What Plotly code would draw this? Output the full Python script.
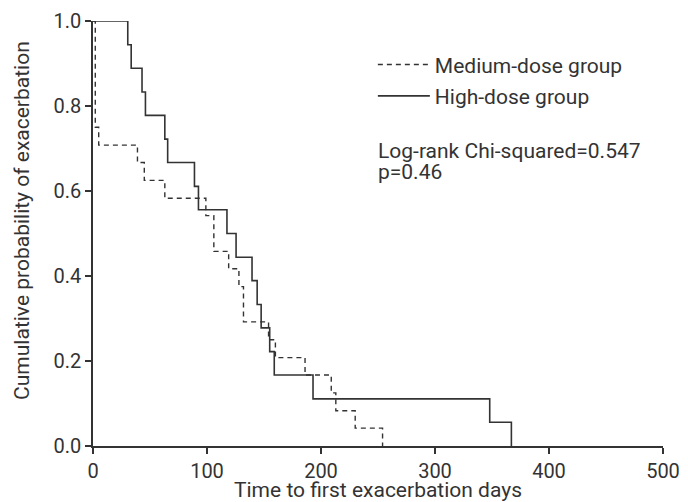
import plotly.graph_objects as go

# Kaplan-Meier step data
medium_times = [0, 2, 5, 39, 45, 63, 99, 106, 119, 128, 132, 154, 160, 186, 209, 213, 230, 254]
medium_surv = [1.0, 0.750, 0.708, 0.667, 0.625, 0.583, 0.542, 0.458, 0.417, 0.375, 0.292,
               0.250, 0.208, 0.167, 0.125, 0.083, 0.042, 0.0]

high_times = [0, 30.5, 33.5, 43, 46, 63, 65.5, 89, 92.5, 117.5, 125.5, 139.5, 144, 147.5,
              155, 159, 193, 348, 367]
high_surv = [1.0, 0.944, 0.889, 0.833, 0.778, 0.722, 0.667, 0.611, 0.556, 0.500, 0.444,
             0.389, 0.333, 0.278, 0.222, 0.167, 0.111, 0.056, 0.0]

x_ticks = [0, 100, 200, 300, 400, 500]
y_ticks = [0.0, 0.2, 0.4, 0.6, 0.8, 1.0]

FONT = "Roboto"
INK = "#333333"
FS_TEXT = 21
FS_TICK = 20

fig = go.Figure()
fig.add_trace(go.Scatter(
    x=medium_times, y=medium_surv, mode="lines", line_shape="hv",
    name="Medium-dose group", legendgroup="a",
    line=dict(color=INK, width=1.4, dash="5px,4px"), cliponaxis=False))
fig.add_trace(go.Scatter(
    x=high_times, y=high_surv, mode="lines", line_shape="hv",
    name="High-dose group", legendgroup="b",
    line=dict(color=INK, width=1.6), cliponaxis=False))

fig.add_annotation(
    x=0.4965, y=0.694, xref="paper", yref="paper", xanchor="left", yanchor="middle",
    text="Log-rank Chi-squared=0.547", showarrow=False, align="left",
    font=dict(family=FONT, size=FS_TEXT, color=INK))
fig.add_annotation(
    x=0.4965, y=0.644, xref="paper", yref="paper", xanchor="left", yanchor="middle",
    text="p=0.46", showarrow=False, align="left",
    font=dict(family=FONT, size=FS_TEXT, color=INK))
# y-axis title
fig.add_annotation(
    x=-0.1246, y=0.532, xref="paper", yref="paper", xanchor="center", yanchor="middle",
    text="Cumulative probability of exacerbation", showarrow=False, textangle=-90,
    font=dict(family=FONT, size=FS_TEXT, color=INK))

axis_common = dict(
    showline=True, linecolor=INK, linewidth=1.5, ticks="outside", ticklen=6,
    tickcolor=INK, tickwidth=1.5, showgrid=False, zeroline=False, automargin=False,
    tickfont=dict(family=FONT, size=FS_TICK, color=INK))

fig.update_xaxes(range=[0, 500], tickvals=x_ticks, title_text="Time to first exacerbation days",
                 title_standoff=3, title_font=dict(family=FONT, size=FS_TEXT, color=INK),
                 **axis_common)
fig.update_yaxes(range=[0, 1], tickvals=y_ticks, tickformat=".1f", **axis_common)

# page body has an 8px margin: the figure is placed at (8, 8)
fig.update_layout(
    width=680, height=494, plot_bgcolor="white", paper_bgcolor="white",
    margin=dict(l=85, r=25, t=13, b=56),
    showlegend=True,
    legend=dict(x=0.491, y=0.945, xanchor="left", yanchor="top", bgcolor="rgba(0,0,0,0)",
                font=dict(family=FONT, size=FS_TEXT, color=INK), tracegroupgap=1,
                itemwidth=52),
)

fig.write_html("out.html")
